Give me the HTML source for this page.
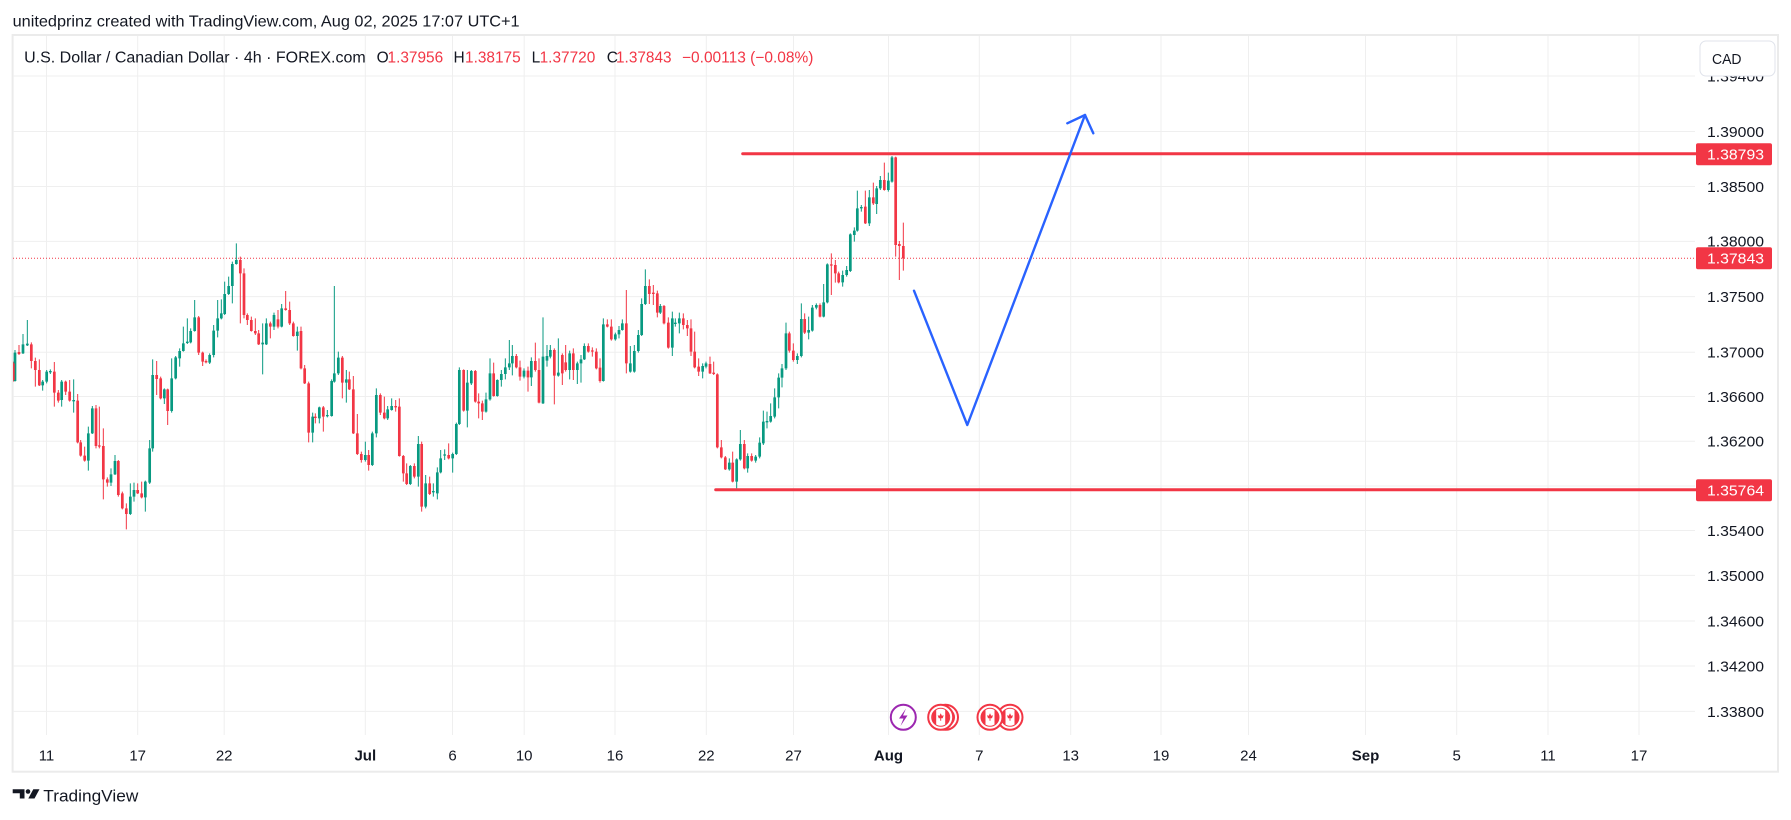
<!DOCTYPE html>
<html><head><meta charset="utf-8"><style>
html,body{margin:0;padding:0;background:#fff;width:1791px;height:820px;overflow:hidden}
svg{display:block;font-family:"Liberation Sans",Arial,sans-serif}
</style></head><body>
<svg id="c" width="1791" height="820" viewBox="0 0 1791 820" xmlns="http://www.w3.org/2000/svg">
<defs><clipPath id="pane"><rect x="13" y="36" width="1682" height="699"/></clipPath></defs>
<rect width="1791" height="820" fill="#fff"/>
<text x="12.6" y="26.5" font-size="16" fill="#131722" textLength="507" lengthAdjust="spacingAndGlyphs">unitedprinz created with TradingView.com, Aug 02, 2025 17:07 UTC+1</text>
<rect x="12.6" y="35" width="1765.4" height="736.7" fill="#fff" stroke="#ebebeb" stroke-width="2"/>
<g stroke="#efefef" stroke-width="1">
<path d="M46.5 36V735M137.7 36V735M224.2 36V735M365.3 36V735M452.5 36V735M524.2 36V735M615 36V735M706.3 36V735M793.5 36V735M888.5 36V735M979.3 36V735M1070.7 36V735M1161 36V735M1248.5 36V735M1365.5 36V735M1456.7 36V735M1548 36V735M1639 36V735"/>
<path d="M13 76H1695M13 131.5H1695M13 186.5H1695M13 241.4H1695M13 296.6H1695M13 352.3H1695M13 396.5H1695M13 441.2H1695M13 486H1695M13 530.5H1695M13 575.4H1695M13 621H1695M13 666H1695M13 711.4H1695"/>
</g>
<g font-size="15.5">
<text x="24.1" y="62.7" fill="#131722" textLength="341.6" lengthAdjust="spacingAndGlyphs">U.S. Dollar / Canadian Dollar · 4h · FOREX.com</text>
<text x="376.6" y="62.7" fill="#131722">O</text>
<text x="387.5" y="62.7" fill="#f23645" textLength="55.7" lengthAdjust="spacingAndGlyphs">1.37956</text>
<text x="453.5" y="62.7" fill="#131722">H</text>
<text x="465" y="62.7" fill="#f23645" textLength="55.7" lengthAdjust="spacingAndGlyphs">1.38175</text>
<text x="531.6" y="62.7" fill="#131722">L</text>
<text x="539.6" y="62.7" fill="#f23645" textLength="55.7" lengthAdjust="spacingAndGlyphs">1.37720</text>
<text x="606.8" y="62.7" fill="#131722">C</text>
<text x="616" y="62.7" fill="#f23645" textLength="55.6" lengthAdjust="spacingAndGlyphs">1.37843</text>
<text x="682" y="62.7" fill="#f23645" textLength="131.4" lengthAdjust="spacingAndGlyphs">−0.00113 (−0.08%)</text>
</g>
<g font-size="15" fill="#131722">
<text x="1707" y="81.4" textLength="57" lengthAdjust="spacingAndGlyphs">1.39400</text>
<text x="1707" y="136.9" textLength="57" lengthAdjust="spacingAndGlyphs">1.39000</text>
<text x="1707" y="191.9" textLength="57" lengthAdjust="spacingAndGlyphs">1.38500</text>
<text x="1707" y="246.7" textLength="57" lengthAdjust="spacingAndGlyphs">1.38000</text>
<text x="1707" y="302" textLength="57" lengthAdjust="spacingAndGlyphs">1.37500</text>
<text x="1707" y="357.7" textLength="57" lengthAdjust="spacingAndGlyphs">1.37000</text>
<text x="1707" y="401.9" textLength="57" lengthAdjust="spacingAndGlyphs">1.36600</text>
<text x="1707" y="446.6" textLength="57" lengthAdjust="spacingAndGlyphs">1.36200</text>
<text x="1707" y="535.9" textLength="57" lengthAdjust="spacingAndGlyphs">1.35400</text>
<text x="1707" y="580.8" textLength="57" lengthAdjust="spacingAndGlyphs">1.35000</text>
<text x="1707" y="626.4" textLength="57" lengthAdjust="spacingAndGlyphs">1.34600</text>
<text x="1707" y="671.4" textLength="57" lengthAdjust="spacingAndGlyphs">1.34200</text>
<text x="1707" y="716.8" textLength="57" lengthAdjust="spacingAndGlyphs">1.33800</text>
</g>
<rect x="1700" y="41" width="75" height="35" rx="6" fill="#fff" stroke="#e0e3eb" stroke-width="1"/>
<text x="1712" y="64" font-size="15" fill="#131722" textLength="29.5" lengthAdjust="spacingAndGlyphs">CAD</text>
<g font-size="15" fill="#131722" text-anchor="middle">
<text x="46.5" y="760.5">11</text><text x="137.7" y="760.5">17</text><text x="224.2" y="760.5">22</text>
<text x="365.3" y="760.5" font-weight="bold">Jul</text><text x="452.5" y="760.5">6</text><text x="524.2" y="760.5">10</text>
<text x="615" y="760.5">16</text><text x="706.3" y="760.5">22</text><text x="793.5" y="760.5">27</text>
<text x="888.5" y="760.5" font-weight="bold">Aug</text><text x="979.3" y="760.5">7</text><text x="1070.7" y="760.5">13</text>
<text x="1161" y="760.5">19</text><text x="1248.5" y="760.5">24</text><text x="1365.5" y="760.5" font-weight="bold">Sep</text>
<text x="1456.7" y="760.5">5</text><text x="1548" y="760.5">11</text><text x="1639" y="760.5">17</text>
</g>
<line x1="13" y1="258.3" x2="1696" y2="258.3" stroke="#f23645" stroke-width="1" stroke-dasharray="1 2"/>
<g id="candles" clip-path="url(#pane)"></g>
<line x1="742.7" y1="153.7" x2="1696" y2="153.7" stroke="#f23645" stroke-width="3" stroke-linecap="round"/>
<line x1="715.7" y1="489.8" x2="1696" y2="489.8" stroke="#f23645" stroke-width="3" stroke-linecap="round"/>
<g fill="none" stroke="#2962ff" stroke-width="2.4" stroke-linecap="round" stroke-linejoin="round">
<polyline points="914,290.7 967.3,425 1085,115"/>
<polyline points="1067.3,123.3 1085,115 1093.3,133.3"/>
</g>
<g font-size="15" fill="#fff">
<rect x="1696" y="143.3" width="76" height="22" rx="2" fill="#f23645"/>
<text x="1707" y="159.7" textLength="57" lengthAdjust="spacingAndGlyphs">1.38793</text>
<rect x="1696" y="247.3" width="76" height="22" rx="2" fill="#f23645"/>
<text x="1707" y="263.7" textLength="57" lengthAdjust="spacingAndGlyphs">1.37843</text>
<rect x="1696" y="479.3" width="76" height="22" rx="2" fill="#f23645"/>
<text x="1707" y="495.7" textLength="57" lengthAdjust="spacingAndGlyphs">1.35764</text>
</g>
<!-- events -->
<g>
<circle cx="903.3" cy="717.3" r="12.5" fill="#fff" stroke="#9c27b0" stroke-width="2"/>
<path d="M906 708.5 L899 718.5 L903.5 718.5 L900.5 726 L907.5 715.5 L903 715.5 Z" fill="#9c27b0"/>
</g>
<g id="flags"></g>
<!-- logo -->
<g fill="#131722">
<path d="M12.7 789.3H24.5V798.5H19.8V793.3H12.7Z"/>
<circle cx="28" cy="791.5" r="2.3"/>
<path d="M33.3 789.3H39.5L34.5 798.5H28.3Z"/>
</g>
<text x="43.3" y="801.7" font-size="17" fill="#131722" textLength="95" lengthAdjust="spacingAndGlyphs">TradingView</text>
</svg>
<script>
(function(){
var NS="http://www.w3.org/2000/svg";
var segs=[
{ox:0,oy:230,d:[
[40,400,450,'r',395,455],
[45,368,453,'g',360,455],[57,366,372,'r',345,375],[69,343,370,'g',312,372],[82,341,346,'g',270,348],
[94,343,393,'r',337,415],[106,393,420,'r',383,470],[118,420,466,'r',388,468],[128,455,466,'g',450,482],
[140,425,455,'g',420,460],[151,423,427,'g',418,432],[163,425,488,'r',396,530],[175,488,512,'r',480,518],
[185,455,510,'g',450,530],[197,455,485,'r',452,495],[209,485,512,'r',450,515],[221,510,514,'g',448,548],
[233,512,637,'r',492,640],[242,637,677,'r',630,680],[254,677,692,'r',650,695],[265,610,692,'g',590,722],
[277,535,610,'g',528,612],[288,535,648,'r',525,655],[298,646,650,'r',530,655],[310,648,748,'r',595,808],
[322,748,758,'r',742,770],[333,733,758,'g',715,768],[345,693,733,'g',675,735],[355,693,795,'r',690,800],
[367,790,835,'r',785,838],[379,835,852,'r',820,898],[391,800,852,'g',760,855],[402,780,800,'g',758,815],
[413,780,790,'r',760,792],[425,790,802,'r',755,805],[436,755,802,'g',752,845],[449,655,758,'g',630,762],
[458,435,655,'g',388,665],[470,435,447,'r',393,495],[482,445,505,'r',440,508],[493,478,505,'g',475,522],
[503,478,543,'r',476,585],[515,445,543,'g',385,548],[527,382,445,'g',378,448],[539,363,385,'g',355,410],
[550,340,363,'g',290,365],[562,335,339,'g',265,342],[572,303,337,'g',295,340],[584,262,303,'g',210,305],
[596,262,368,'r',258,375],[608,368,395,'r',365,408],[618,393,397,'r',388,400],[629,375,398,'g',370,402],
[641,302,375,'g',285,382],[653,265,302,'g',210,322],[664,250,265,'g',208,268],[674,192,252,'g',155,255],
[686,168,192,'g',140,195],[697,102,168,'g',95,220],[709,90,102,'g',40,104],[721,90,130,'r',80,280],
[732,130,255,'r',115,265],[742,255,270,'r',250,285],[754,270,303,'r',260,305],[766,303,310,'r',265,315],
[776,310,343,'r',300,345],[788,338,343,'g',280,433],[799,280,343,'g',265,345],[811,280,290,'r',275,325],
[822,255,290,'g',248,300],[834,268,290,'r',240,295],[845,235,290,'g',222,292],[857,235,240,'r',183,242],
[869,240,280,'r',215,285],[880,280,318,'r',275,320],[892,305,318,'g',290,362],[903,303,415,'r',290,418],
[914,415,460,'r',405,462],[926,460,608,'r',455,637],[938,560,608,'g',548,637],[946,560,564,'r',550,580],
[958,532,565,'g',530,580]]},
{ox:320,oy:230,d:[
[10,532,560,'r',528,605],[22,555,558,'g',540,562],[35,453,558,'g',448,560],[43,430,455,'g',168,458],
[55,383,430,'g',365,435],[67,383,458,'r',378,505],[79,448,458,'g',420,518],[88,448,478,'r',425,480],
[100,478,610,'r',438,612],[112,610,672,'r',552,675],[124,672,690,'r',665,698],[136,675,690,'g',635,695],
[146,675,705,'r',660,722],[157,610,705,'g',605,708],[169,495,610,'g',475,622],[181,495,548,'r',490,555],
[193,548,565,'r',500,568],[203,538,565,'g',528,570],[215,528,540,'g',505,542],[227,528,532,'r',510,545],
[238,530,678,'r',505,680],[250,678,730,'r',675,755],[260,730,762,'r',700,765],[271,708,762,'g',705,765],
[283,708,740,'r',700,745],[295,642,740,'g',618,770],[305,642,830,'r',635,845],[317,760,830,'g',735,835],
[329,760,792,'r',740,795],[340,783,787,'g',760,800],[352,727,790,'g',712,808],[362,685,727,'g',660,730],
[374,673,677,'g',658,690],[386,675,685,'r',640,688],[398,672,685,'g',668,728],[409,582,672,'g',578,675],
[418,420,582,'g',412,585],[431,420,542,'r',418,545],[442,458,542,'g',420,592],[454,423,460,'g',420,465],
[466,423,515,'r',420,518],[476,515,520,'r',490,565],[487,520,545,'r',512,570],[498,508,545,'g',488,548],
[510,430,508,'g',385,512],[521,430,498,'r',398,500],[532,450,498,'g',448,500],[544,432,450,'g',420,470],
[556,412,432,'g',385,448],[568,400,412,'g',330,420],[577,378,400,'g',345,436],[589,378,412,'r',372,415],
[600,412,440,'r',392,452],[612,422,440,'g',415,445],[624,422,442,'r',410,485],[634,393,442,'g',382,468],
[646,393,420,'r',338,425],[657,420,518,'r',385,520],[669,380,520,'g',262,522],[681,378,392,'g',345,410],
[691,360,380,'g',345,385],[703,360,437,'r',355,523],[715,428,437,'g',325,440],[727,375,430,'r',370,465],
[737,397,420,'r',345,425],[749,370,420,'g',362,448],[760,370,420,'r',355,450],[772,400,420,'g',395,462],
[783,388,400,'g',375,458],[793,348,388,'g',340,390],[805,348,365,'r',340,368],[817,361,365,'r',352,380],
[829,365,415,'r',355,418],[840,413,453,'r',385,458],[850,283,453,'g',265,455],[862,283,290,'r',268,292],
[874,290,328,'r',268,332],[886,313,328,'g',308,332],[897,300,313,'g',288,325],[907,280,300,'g',268,302],
[919,280,400,'r',180,430],[931,400,425,'g',348,428],[943,363,425,'g',345,428],[955,315,363,'g',300,368],
[965,222,315,'g',205,318],[976,168,222,'g',118,225],[988,168,192,'r',148,222],[1000,188,192,'r',165,225],
[1012,190,248,'r',182,262],[1021,228,248,'g',222,252],[1032,228,280,'r',225,283],[1045,278,353,'r',262,356],
[1057,265,353,'g',245,378],[1066,278,282,'g',265,290],[1078,265,280,'g',248,310],[1090,265,285,'r',250,298],
[1102,285,295,'r',270,318],[1113,295,365,'r',268,378],[1124,365,412,'r',305,415],[1136,410,425,'r',385,438],
[1148,408,425,'g',400,445],[1158,400,410,'g',395,415],[1170,402,430,'r',380,432],[1181,428,432,'r',395,435]]},
{ox:700,oy:140,d:[
[52,703,922,'r',700,925],[64,922,952,'r',900,955],[76,952,988,'r',948,990],[88,968,988,'g',955,992],
[98,968,1025,'r',935,1027],[110,958,1025,'g',955,1045],[121,912,958,'g',870,962],[133,912,985,'r',900,988],
[143,948,985,'g',940,998],[155,948,962,'r',940,965],[167,950,962,'g',945,968],[179,908,950,'g',892,955],
[190,845,910,'g',812,915],[201,843,847,'g',815,865],[212,828,845,'g',790,848],[224,772,830,'g',745,835],
[236,713,772,'g',700,805],[246,685,713,'g',672,742],[258,580,685,'g',548,690],[268,580,632,'r',575,638],
[280,632,660,'r',610,665],[292,648,660,'g',640,672],[304,537,648,'g',490,652],[314,537,578,'r',520,582],
[326,570,578,'g',530,598],[337,503,572,'g',495,575],[349,495,503,'g',490,508],[360,495,530,'r',490,532],
[371,487,530,'g',432,532],[382,373,487,'g',370,490],[394,373,377,'r',340,465],[406,375,400,'r',360,428],
[416,400,427,'r',395,430],[428,405,427,'g',392,440],[440,390,405,'g',378,410],[451,283,393,'g',280,396],
[463,272,285,'g',262,305],[472,205,272,'g',152,275],[484,201,205,'g',195,215],[496,200,250,'r',152,252],
[508,172,250,'g',150,258],[520,172,190,'r',128,195],[530,145,192,'g',138,222],[541,120,145,'g',108,150],
[553,120,150,'r',68,152],[565,122,150,'g',98,155],[576,52,125,'g',48,128],[587,52,315,'r',50,350],
[598,312,318,'r',303,420],[610,318,355,'r',248,392]]}
];
var gB='',rB='',gW='',rW='';
function f(n){return n.toFixed(2);}
segs.forEach(function(s){s.d.forEach(function(c){
 var x=s.ox+c[0]/3, t=s.oy+c[1]/3, b=s.oy+c[2]/3;
 var wt=s.oy+(c[4]!==undefined?c[4]:c[1]-6)/3, wb=s.oy+(c[5]!==undefined?c[5]:c[2]+6)/3;
 var h=Math.max(b-t,1.2);
 var body='M'+f(x-1.35)+' '+f(t)+'h2.7v'+f(h)+'h-2.7z';
 var wick='M'+f(x)+' '+f(wt)+'V'+f(wb);
 if(c[3]==='g'){gB+=body;gW+=wick;}else{rB+=body;rW+=wick;}
});});
var g=document.getElementById('candles');
function p(d,attrs){var e=document.createElementNS(NS,'path');e.setAttribute('d',d);for(var k in attrs)e.setAttribute(k,attrs[k]);g.appendChild(e);}
p(gW,{stroke:'#089981','stroke-width':'1',fill:'none'});
p(rW,{stroke:'#f23645','stroke-width':'1',fill:'none'});
p(gB,{fill:'#089981'});
p(rB,{fill:'#f23645'});
var fl=document.getElementById('flags');
function flag(cx,cy){
 var s='<circle cx="'+cx+'" cy="'+cy+'" r="12.5" fill="#fff" stroke="#f23645" stroke-width="2"/>'+
 '<circle cx="'+cx+'" cy="'+cy+'" r="9" fill="#fff" stroke="#f23645" stroke-width="1"/>'+
 '<path d="M'+(cx-8.6)+' '+(cy-3)+'A9 9 0 0 1 '+(cx-4.5)+' '+(cy-7.8)+'V'+(cy+7.8)+'A9 9 0 0 1 '+(cx-8.6)+' '+(cy+3)+'Z" fill="#f23645"/>'+
 '<path d="M'+(cx+8.6)+' '+(cy-3)+'A9 9 0 0 0 '+(cx+4.5)+' '+(cy-7.8)+'V'+(cy+7.8)+'A9 9 0 0 0 '+(cx+8.6)+' '+(cy+3)+'Z" fill="#f23645"/>'+
 '<path d="M'+cx+' '+(cy-4)+'L'+(cx+1.2)+' '+(cy-1.5)+'L'+(cx+3)+' '+(cy-2)+'L'+(cx+2)+' '+(cy+1)+'L'+(cx+0.5)+' '+(cy+1)+'V'+(cy+3.5)+'H'+(cx-0.5)+'V'+(cy+1)+'L'+(cx-2)+' '+(cy+1)+'L'+(cx-3)+' '+(cy-2)+'L'+(cx-1.2)+' '+(cy-1.5)+'Z" fill="#f23645"/>';
 return s;
}
fl.innerHTML=flag(945.5,717.3)+flag(940.7,717.3)+flag(1010,717.3)+flag(990,717.3);
})();
</script>
</body></html>
